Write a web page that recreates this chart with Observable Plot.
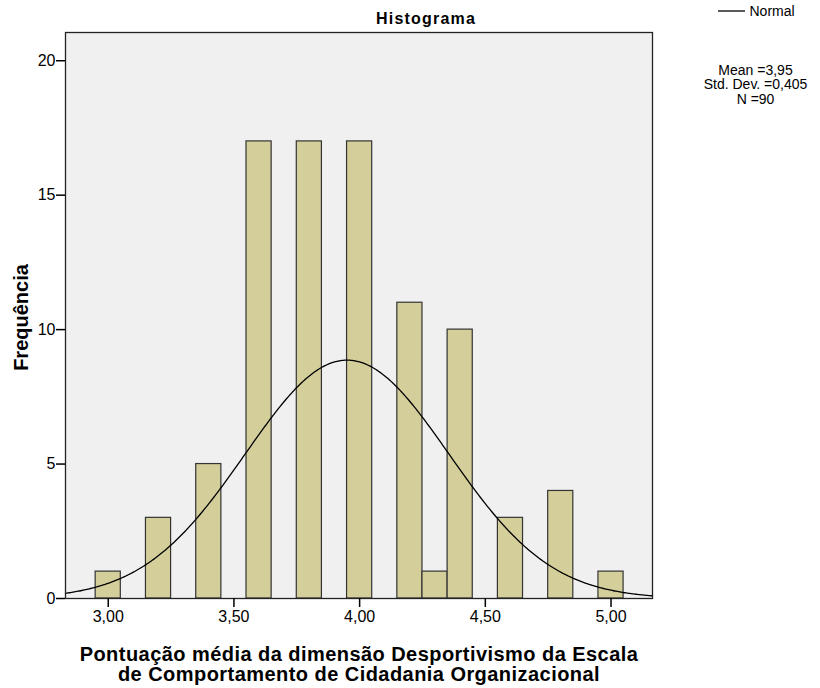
<!DOCTYPE html>
<html>
<head>
<meta charset="utf-8">
<script src="https://cdn.jsdelivr.net/npm/d3@7"></script>
<script src="https://cdn.jsdelivr.net/npm/@observablehq/plot@0.6"></script>
<style>
  html, body { margin: 0; padding: 0; background: #ffffff; }
  #chart svg { display: block; }
  .chart-title text { letter-spacing: 1.2px; }
  .x-title text { letter-spacing: 0.45px; }
</style>
</head>
<body>
<div id="chart"></div>
<script>
// Histogram bins: centre of each bin (width 0,1) and its frequency
const binCenters = [3.00, 3.20, 3.40, 3.60, 3.80, 4.00, 4.20, 4.30, 4.40, 4.60, 4.80, 5.00];
const counts     = [1,    3,    5,    17,   17,   17,   11,   1,    10,   3,    4,    1];
const binWidth = 0.1;

// Summary statistics shown beside the chart
const mean = 3.95;
const stdDev = 0.405;
const n = 90;

// Axis ticks
const xTicks = [3.00, 3.50, 4.00, 4.50, 5.00];
const yTicks = [0, 5, 10, 15, 20];

const xDomain = [2.83, 5.165];
const yDomain = [0, 21.05];

const comma = (v, digits) => v.toFixed(digits).replace(".", ",");

const bins = binCenters.map((c, i) => ({x1: c - binWidth / 2, x2: c + binWidth / 2, count: counts[i]}));

// Fitted normal curve, scaled to frequency per bin
const curveX = d3.range(xDomain[0], xDomain[1] + 1e-9, 0.005);
const normal = curveX.map(x => ({
  x,
  y: n * binWidth * Math.exp(-0.5 * ((x - mean) / stdDev) ** 2) / (stdDev * Math.sqrt(2 * Math.PI))
}));

const font = "'Liberation Sans', Arial, Helvetica, sans-serif";

const chart = Plot.plot({
  width: 820,
  height: 688,
  marginLeft: 65,
  marginRight: 168,
  marginTop: 32,
  marginBottom: 90,
  style: {fontFamily: font, fontSize: "16px", color: "#000", background: "#ffffff", overflow: "visible"},
  x: {domain: xDomain},
  y: {domain: yDomain},
  marks: [
    Plot.frame({fill: "#f0f0f0", stroke: null}),
    Plot.rectY(bins, {x1: "x1", x2: "x2", y: "count", fill: "#d3ce9a", stroke: "#333333", strokeWidth: 1.2}),
    Plot.line(normal, {x: "x", y: "y", stroke: "#000", strokeWidth: 1.3, curve: "linear"}),
    Plot.frame({stroke: "#222", strokeWidth: 1.3}),
    Plot.axisX({ticks: xTicks, tickSize: 9, tickPadding: 3, tickFormat: d => comma(d, 2), label: null, fontSize: 16, strokeWidth: 1.5}),
    Plot.axisY({ticks: yTicks, tickSize: 9, tickPadding: 1, tickFormat: d => comma(d, 0), label: null, fontSize: 16, strokeWidth: 1.5}),
    // Title
    Plot.text(["Histograma"], {frameAnchor: "top", dx: 67, dy: -14, lineAnchor: "middle", fontWeight: "bold", fontSize: 16, className: "chart-title"}),
    // Axis titles
    Plot.text(["Pontuação média da dimensão Desportivismo da Escala\nde Comportamento de Cidadania Organizacional"],
      {frameAnchor: "bottom", dy: 66, lineAnchor: "middle", fontWeight: "bold", fontSize: 20, lineHeight: 1.0, className: "x-title"}),
    Plot.text(["Frequência"], {frameAnchor: "left", dx: -44, dy: 2, rotate: -90, lineAnchor: "middle", textAnchor: "middle", fontWeight: "bold", fontSize: 20}),
    // Statistics block
    Plot.text([`Mean =${comma(mean, 2)}\nStd. Dev. =${comma(stdDev, 3)}\nN =${n}`],
      {frameAnchor: "top-right", dx: 103, dy: 52, lineAnchor: "middle", textAnchor: "middle", fontSize: 14, lineHeight: 1.05}),
    // Legend label
    Plot.text(["Normal"], {frameAnchor: "top-right", dx: 97, dy: -21, lineAnchor: "middle", textAnchor: "start", fontSize: 14})
  ]
});

// Legend swatch for the normal curve
const svg = d3.select(chart);
svg.append("line")
  .attr("x1", 718).attr("x2", 745)
  .attr("y1", 11).attr("y2", 11)
  .attr("stroke", "#000").attr("stroke-width", 1.3);

document.getElementById("chart").appendChild(chart);
</script>
</body>
</html>
